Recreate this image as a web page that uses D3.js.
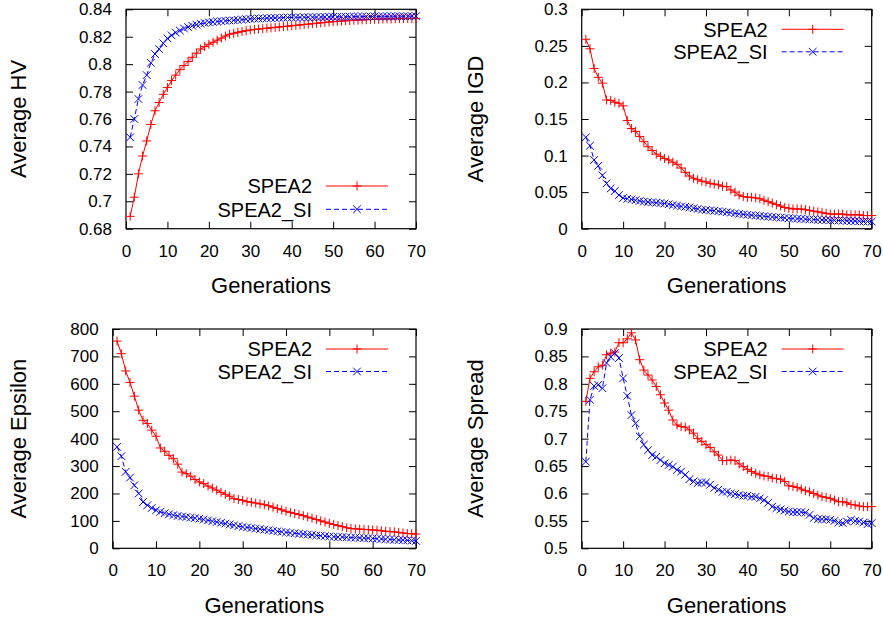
<!DOCTYPE html>
<html>
<head>
<meta charset="utf-8">
<script src="https://cdn.jsdelivr.net/npm/d3@7"></script>
<style>
  body { margin: 0; background: #fff; }
  svg { display: block; font-family: "Liberation Sans", Arial, sans-serif; }
</style>
</head>
<body>
<script>
// generations 1..70
const generations = [1, 2, 3, 4, 5, 6, 7, 8, 9, 10, 11, 12, 13, 14, 15, 16, 17, 18, 19, 20,
  21, 22, 23, 24, 25, 26, 27, 28, 29, 30, 31, 32, 33, 34, 35, 36, 37, 38, 39, 40,
  41, 42, 43, 44, 45, 46, 47, 48, 49, 50, 51, 52, 53, 54, 55, 56, 57, 58, 59, 60,
  61, 62, 63, 64, 65, 66, 67, 68, 69, 70];

const seriesNames = ['SPEA2', 'SPEA2_SI'];

// Average HV
const hvSPEA2 = [0.689, 0.703, 0.720, 0.733, 0.744, 0.756, 0.766, 0.772, 0.778, 0.783,
  0.788, 0.792, 0.796, 0.799, 0.802, 0.805, 0.808, 0.811, 0.8128, 0.8145,
  0.816, 0.8175, 0.819, 0.8205, 0.8218, 0.8225, 0.8232, 0.8238, 0.8244, 0.8249,
  0.8253, 0.8256, 0.8259, 0.8262, 0.8265, 0.8268, 0.8271, 0.8274, 0.8277, 0.828,
  0.8283, 0.8286, 0.8289, 0.8292, 0.8295, 0.8298, 0.8301, 0.8304, 0.8307, 0.831,
  0.8312, 0.8314, 0.8316, 0.8318, 0.832, 0.8321, 0.8323, 0.8324, 0.8326, 0.8327,
  0.8328, 0.8329, 0.833, 0.833, 0.8331, 0.8332, 0.8332, 0.8333, 0.8333, 0.8334];
const hvSPEA2SI = [0.7466, 0.760, 0.7746, 0.7848, 0.792, 0.801, 0.8074, 0.811, 0.8152, 0.8188,
  0.821, 0.823, 0.8245, 0.826, 0.827, 0.828, 0.8288, 0.8295, 0.830, 0.8305,
  0.8308, 0.8311, 0.8314, 0.8316, 0.8318, 0.832, 0.8322, 0.8325, 0.8328, 0.833,
  0.8332, 0.8333, 0.8334, 0.8335, 0.8336, 0.8337, 0.8338, 0.8339, 0.834, 0.834,
  0.8341, 0.8341, 0.8342, 0.8342, 0.8343, 0.8343, 0.8344, 0.8344, 0.8345, 0.8345,
  0.8345, 0.8346, 0.8346, 0.8346, 0.8347, 0.8347, 0.8347, 0.8347, 0.8348, 0.8348,
  0.8348, 0.8348, 0.8348, 0.8349, 0.8349, 0.8349, 0.8349, 0.8349, 0.835, 0.835];

// Average IGD
const igdSPEA2 = [0.259, 0.246, 0.219, 0.207, 0.199, 0.176, 0.1755, 0.173, 0.1715, 0.168,
  0.148, 0.137, 0.133, 0.126, 0.119, 0.112, 0.107, 0.102, 0.099, 0.096,
  0.094, 0.091, 0.088, 0.083, 0.077, 0.072, 0.069, 0.067, 0.065, 0.064,
  0.062, 0.061, 0.060, 0.058, 0.0575, 0.053, 0.050, 0.046, 0.044, 0.043,
  0.043, 0.042, 0.041, 0.039, 0.037, 0.035, 0.033, 0.031, 0.029, 0.028,
  0.027, 0.027, 0.027, 0.026, 0.025, 0.024, 0.023, 0.022, 0.021, 0.020,
  0.020, 0.020, 0.020, 0.019, 0.019, 0.019, 0.019, 0.018, 0.018, 0.018];
const igdSPEA2SI = [0.125, 0.1135, 0.094, 0.086, 0.073, 0.062, 0.055, 0.0515, 0.046, 0.042,
  0.041, 0.040, 0.039, 0.038, 0.037, 0.0365, 0.036, 0.0355, 0.035, 0.0345,
  0.0335, 0.0325, 0.0315, 0.0305, 0.030, 0.029, 0.028, 0.027, 0.026, 0.0255,
  0.025, 0.0245, 0.024, 0.0233, 0.0226, 0.022, 0.021, 0.0203, 0.0196, 0.019,
  0.0185, 0.018, 0.0175, 0.017, 0.0165, 0.016, 0.0156, 0.0152, 0.0148, 0.0144,
  0.014, 0.0137, 0.0134, 0.0131, 0.0128, 0.0125, 0.0122, 0.012, 0.0118, 0.0116,
  0.0114, 0.0112, 0.011, 0.0108, 0.0106, 0.0104, 0.0102, 0.010, 0.0098, 0.0097];

// Average Epsilon
const epsSPEA2 = [756, 710, 647, 605, 555, 504, 467, 455, 431, 409,
  366, 354, 339, 327, 307, 278, 272, 263, 251, 242,
  236, 227, 220, 212, 204, 197, 190, 181, 178, 175,
  170, 168, 165, 162, 159, 155, 150, 145, 140, 135,
  131, 127, 123, 119, 114, 110, 105, 100, 96, 91,
  87, 83, 79, 75, 72, 71, 70, 69, 68, 67,
  66, 64, 62, 61, 60, 58, 56, 54, 53, 52];
const epsSPEA2SI = [370, 336, 279, 258, 230, 200, 169, 157, 147, 139,
  133, 128, 124, 121, 118, 116, 114, 112, 110, 108,
  105, 102, 99, 96, 93, 90, 87, 84, 81, 78,
  76, 74, 72, 70, 68, 66, 64, 62, 60, 58,
  56, 55, 53, 52, 50, 49, 47, 46, 45, 43,
  42, 41, 41, 40, 39, 39, 38, 37, 37, 36,
  35, 34, 33, 32, 31, 30, 30, 29, 28, 27];

// Average Spread
const spreadSPEA2 = [0.768, 0.810, 0.822, 0.831, 0.834, 0.853, 0.856, 0.858, 0.875, 0.875,
  0.882, 0.893, 0.880, 0.844, 0.825, 0.816, 0.807, 0.795, 0.780, 0.765,
  0.752, 0.734, 0.725, 0.722, 0.721, 0.716, 0.710, 0.700, 0.695, 0.689,
  0.684, 0.676, 0.670, 0.660, 0.660, 0.661, 0.660, 0.654, 0.649, 0.644,
  0.640, 0.637, 0.634, 0.632, 0.631, 0.628, 0.627, 0.626, 0.622, 0.614,
  0.613, 0.611, 0.608, 0.605, 0.603, 0.600, 0.597, 0.594, 0.593, 0.591,
  0.588, 0.585, 0.585, 0.583, 0.580, 0.579, 0.577, 0.576, 0.576, 0.576];
const spreadSPEA2SI = [0.658, 0.771, 0.796, 0.798, 0.792, 0.838, 0.849, 0.856, 0.847, 0.810,
  0.778, 0.743, 0.728, 0.704, 0.689, 0.679, 0.670, 0.667, 0.661, 0.655,
  0.652, 0.649, 0.643, 0.640, 0.634, 0.626, 0.622, 0.619, 0.620, 0.620,
  0.616, 0.610, 0.607, 0.603, 0.603, 0.600, 0.599, 0.597, 0.596, 0.596,
  0.594, 0.594, 0.591, 0.588, 0.583, 0.576, 0.573, 0.571, 0.569, 0.567,
  0.566, 0.566, 0.566, 0.565, 0.561, 0.555, 0.553, 0.553, 0.553, 0.552,
  0.550, 0.547, 0.546, 0.549, 0.552, 0.550, 0.549, 0.547, 0.544, 0.546];

// tick values
const xTicks = [0, 10, 20, 30, 40, 50, 60, 70];
const hvTicks = [0.68, 0.7, 0.72, 0.74, 0.76, 0.78, 0.8, 0.82, 0.84];
const igdTicks = [0, 0.05, 0.1, 0.15, 0.2, 0.25, 0.3];
const epsTicks = [0, 100, 200, 300, 400, 500, 600, 700, 800];
const spreadTicks = [0.5, 0.55, 0.6, 0.65, 0.7, 0.75, 0.8, 0.85, 0.9];

const width = 883;
const height = 621;
const red = '#ff0000';
const blue = '#0000ff';
const tickLen = 7;

let svg = d3.select('body').append('svg').attr('width', width).attr('height', height);

// panels: frame box, title, series, legend corner
const panels = [
  { title: 'Average HV', a: hvSPEA2, b: hvSPEA2SI, ticks: hvTicks,
    box: { left: 126, right: 416, top: 9.3, bottom: 228.7 }, titleX: 26, legend: 'bottom' },
  { title: 'Average IGD', a: igdSPEA2, b: igdSPEA2SI, ticks: igdTicks,
    box: { left: 581.7, right: 871.7, top: 9.3, bottom: 228.7 }, titleX: 482.5, legend: 'top' },
  { title: 'Average Epsilon', a: epsSPEA2, b: epsSPEA2SI, ticks: epsTicks,
    box: { left: 112.7, right: 416, top: 329, bottom: 548.3 }, titleX: 26, legend: 'top' },
  { title: 'Average Spread', a: spreadSPEA2, b: spreadSPEA2SI, ticks: spreadTicks,
    box: { left: 581.7, right: 871.7, top: 329, bottom: 548.3 }, titleX: 482.5, legend: 'top' },
];

const plusPath = 'M-4.5,0H4.5M0,-4.5V4.5';
const crossPath = 'M-3.8,-3.8L3.8,3.8M-3.8,3.8L3.8,-3.8';

function styleAxis(g) {
  g.select('.domain').remove();
  g.attr('font-size', null).attr('font-family', null);
  g.selectAll('line').attr('stroke', '#000').attr('stroke-width', 1);
  g.selectAll('text').attr('fill', '#000').style('font-size', '17px');
}

function fmt(v) {
  return String(+v.toFixed(3));
}

function drawPanel(p) {
  const b = p.box;
  const x = d3.scaleLinear([0, 70], [b.left, b.right]);
  const y = d3.scaleLinear([p.ticks[0], p.ticks[p.ticks.length - 1]], [b.bottom, b.top]);
  const g = svg.append('g');

  // axes with inward ticks on all four sides
  g.append('g').attr('transform', `translate(0,${b.bottom})`)
    .call(d3.axisBottom(x).tickValues(xTicks).tickSizeInner(-tickLen).tickSizeOuter(0)
      .tickPadding(16).tickFormat(fmt))
    .call(styleAxis);
  g.append('g').attr('transform', `translate(0,${b.top})`)
    .call(d3.axisTop(x).tickValues(xTicks).tickSizeInner(-tickLen).tickSizeOuter(0).tickFormat(''))
    .call(styleAxis);
  g.append('g').attr('transform', `translate(${b.left},0)`)
    .call(d3.axisLeft(y).tickValues(p.ticks).tickSizeInner(-tickLen).tickSizeOuter(0)
      .tickPadding(14).tickFormat(fmt))
    .call(styleAxis);
  g.append('g').attr('transform', `translate(${b.right},0)`)
    .call(d3.axisRight(y).tickValues(p.ticks).tickSizeInner(-tickLen).tickSizeOuter(0).tickFormat(''))
    .call(styleAxis);

  // frame
  g.append('rect').attr('x', b.left).attr('y', b.top)
    .attr('width', b.right - b.left).attr('height', b.bottom - b.top)
    .attr('fill', 'none').attr('stroke', '#000').attr('stroke-width', 1.2);

  // axis titles
  g.append('text').attr('x', (b.left + b.right) / 2).attr('y', b.bottom + 64.5)
    .attr('text-anchor', 'middle').style('font-size', '22px').text('Generations');
  g.append('text')
    .attr('transform', `translate(${p.titleX},${(b.top + b.bottom) / 2}) rotate(-90)`)
    .attr('text-anchor', 'middle').style('font-size', '22px').text(p.title);

  const line = d3.line().x((d, i) => x(generations[i])).y((d) => y(d));

  const series = [
    { values: p.a, color: red, dash: null, marker: plusPath },
    { values: p.b, color: blue, dash: '5,3', marker: crossPath },
  ];

  series.forEach((s) => {
    g.append('path').datum(s.values).attr('d', line)
      .attr('fill', 'none').attr('stroke', s.color).attr('stroke-width', 1)
      .attr('stroke-dasharray', s.dash);
    g.append('g').selectAll('path').data(s.values).enter().append('path')
      .attr('transform', (d, i) => `translate(${x(generations[i])},${y(d)})`)
      .attr('d', s.marker).attr('fill', 'none').attr('stroke', s.color).attr('stroke-width', 1);
  });

  // legend
  const rows = p.legend === 'bottom' ? [b.bottom - 42.7, b.bottom - 19.4] : [b.top + 20, b.top + 42.5];
  series.forEach((s, i) => {
    const ly = rows[i];
    g.append('text').attr('x', b.right - 104).attr('y', ly).attr('dy', '0.36em')
      .attr('text-anchor', 'end').style('font-size', '20px').text(seriesNames[i]);
    g.append('line').attr('x1', b.right - 90).attr('x2', b.right - 28)
      .attr('y1', ly).attr('y2', ly)
      .attr('stroke', s.color).attr('stroke-width', 1).attr('stroke-dasharray', s.dash);
    g.append('path').attr('transform', `translate(${b.right - 59},${ly})`)
      .attr('d', s.marker).attr('fill', 'none').attr('stroke', s.color).attr('stroke-width', 1);
  });
}

panels.forEach(drawPanel);
</script>
</body>
</html>
